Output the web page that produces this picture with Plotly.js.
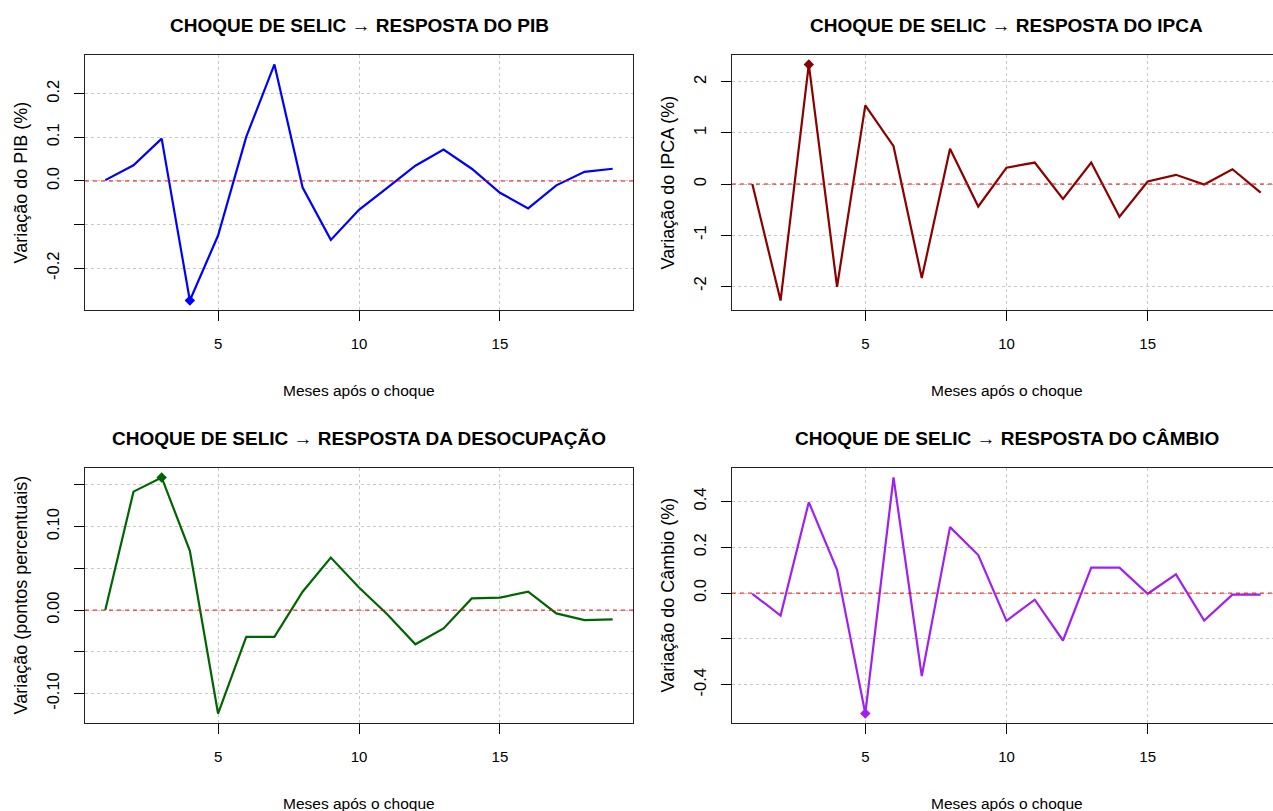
<!DOCTYPE html>
<html>
<head>
<meta charset="utf-8">
<script src="https://cdn.plot.ly/plotly-3.0.1.min.js"></script>
<style>
  html, body { margin: 0; padding: 0; background: #ffffff; }
  #chart { width: 1273px; height: 811px; }
</style>
</head>
<body>
<div id="chart"></div>
<script>
// ---------------- DATA ----------------
const meses = [1, 2, 3, 4, 5, 6, 7, 8, 9, 10, 11, 12, 13, 14, 15, 16, 17, 18, 19];

const respPIB = [0.002, 0.036, 0.097, -0.274, -0.125, 0.101, 0.267, -0.015, -0.135, -0.066,
                 -0.016, 0.035, 0.072, 0.028, -0.027, -0.063, -0.010, 0.021, 0.028];

const respIPCA = [0.00, -2.28, 2.34, -2.01, 1.54, 0.74, -1.84, 0.69, -0.44, 0.32,
                  0.42, -0.29, 0.42, -0.64, 0.05, 0.18, -0.01, 0.29, -0.17];

const respDesocupacao = [0.000, 0.142, 0.159, 0.071, -0.124, -0.032, -0.032, 0.022, 0.063, 0.027,
                         -0.005, -0.041, -0.022, 0.014, 0.015, 0.022, -0.004, -0.012, -0.011];

const respCambio = [-0.003, -0.098, 0.397, 0.102, -0.526, 0.505, -0.362, 0.288, 0.166, -0.121,
                    -0.029, -0.207, 0.111, 0.111, -0.003, 0.082, -0.120, -0.007, -0.007];

const titulos = ["CHOQUE DE SELIC \u2192 RESPOSTA DO PIB",
                 "CHOQUE DE SELIC \u2192 RESPOSTA DO IPCA",
                 "CHOQUE DE SELIC \u2192 RESPOSTA DA DESOCUPA\u00C7\u00C3O",
                 "CHOQUE DE SELIC \u2192 RESPOSTA DO C\u00C2MBIO"];
const yTitulos = ["Varia\u00E7\u00E3o do PIB (%)",
                  "Varia\u00E7\u00E3o do IPCA (%)",
                  "Varia\u00E7\u00E3o (pontos percentuais)",
                  "Varia\u00E7\u00E3o do C\u00E2mbio (%)"];
const xTitulo = "Meses ap\u00F3s o choque";

const xTickVals = [5, 10, 15];
const xTickText = ["5", "10", "15"];

const yTickVals = [
  [-0.2, -0.1, 0, 0.1, 0.2],
  [-2, -1, 0, 1, 2],
  [-0.10, -0.05, 0, 0.05, 0.10, 0.15],
  [-0.4, -0.2, 0, 0.2, 0.4]
];
const yTickText = [
  ["-0.2", "", "0.0", "0.1", "0.2"],
  ["-2", "-1", "0", "1", "2"],
  ["-0.10", "", "0.00", "", "0.10", ""],
  ["-0.4", "", "0.0", "0.2", "0.4"]
];

const cores = ["#0000FF", "#8B0000", "#006400", "#A020F0"];
const series = [respPIB, respIPCA, respDesocupacao, respCambio];

// ---------------- FONT CHOICE ----------------
function hasFont(name) {
  const c = document.createElement("canvas").getContext("2d");
  const s = "mmmmmmmmmmwwwwwwwlllliiiiiMMM0123";
  c.font = "72px monospace"; const a = c.measureText(s).width;
  c.font = '72px "' + name + '", monospace'; const b = c.measureText(s).width;
  return Math.abs(a - b) > 1;
}
const narrowOK = hasFont("Liberation Sans Narrow");
const narrow = narrowOK ? '"Liberation Sans Narrow", "Arial Narrow", sans-serif' : '"Liberation Sans", Arial, sans-serif';
const regular = '"Liberation Sans", Arial, sans-serif';
const sTitle = narrowOK ? 23 : 19;
const sXlab = narrowOK ? 19 : 15.5;
const sXtick = narrowOK ? 18 : 15;

// ---------------- LAYOUT GEOMETRY ----------------
const W = 1273, H = 811;
// panel boxes in pixels: [left, right, top, bottom]
const boxes = [
  [85, 633, 55, 310],
  [732, 1281, 55, 310],
  [85, 633, 468, 723],
  [732, 1281, 468, 723]
];

function padRange(v) {
  const mn = Math.min(...v), mx = Math.max(...v);
  const d = (mx - mn) * 0.04;
  return [mn - d, mx + d];
}
const xFull = [meses[0] - (meses[meses.length - 1] - meses[0]) * 0.04,
               meses[meses.length - 1] + (meses[meses.length - 1] - meses[0]) * 0.04];

const traces = [];
const layout = {
  width: W, height: H,
  margin: {l: 0, r: 0, t: 0, b: 0},
  paper_bgcolor: "#ffffff",
  plot_bgcolor: "#ffffff",
  showlegend: false,
  shapes: [],
  annotations: []
};

for (let i = 0; i < 4; i++) {
  const n = i === 0 ? "" : String(i + 1);
  const [L, R, T, B] = boxes[i];
  // clip right panels at the image edge, keeping the same x scale
  const pxPerUnit = (R - L) / (xFull[1] - xFull[0]);
  const Rc = Math.min(R, W);
  const xr = [xFull[0], xFull[0] + (Rc - L) / pxPerUnit];

  layout["xaxis" + n] = {
    domain: [L / W, Rc / W],
    anchor: "y" + n,
    range: xr,
    tickmode: "array", tickvals: xTickVals, ticktext: xTickText,
    ticks: "outside", ticklen: 10, tickwidth: 1, tickcolor: "#000",
    ticklabelstandoff: 10,
    tickfont: {family: narrow, size: sXtick, color: "#000"},
    showgrid: true, gridcolor: "#C8C8C8", griddash: "dot", gridwidth: 1,
    zeroline: false,
    showline: true, mirror: true, linecolor: "#222", linewidth: 1
  };
  const yr = padRange(series[i]);
  layout["yaxis" + n] = {
    domain: [1 - B / H, 1 - T / H],
    anchor: "x" + n,
    range: yr,
    tickmode: "array", tickvals: yTickVals[i], ticktext: yTickText[i],
    ticks: "outside", ticklen: 10, tickwidth: 1, tickcolor: "#000",
    tickangle: -90,
    ticklabelstandoff: 8,
    tickfont: {family: regular, size: 16.5, color: "#000"},
    showgrid: true, gridcolor: "#C8C8C8", griddash: "dot", gridwidth: 1,
    zeroline: false,
    showline: true, mirror: true, linecolor: "#222", linewidth: 1
  };

  // zero reference line
  layout.shapes.push({
    type: "line", xref: "x" + n + " domain", x0: 0, x1: 1,
    yref: "y" + n, y0: 0, y1: 0,
    line: {color: "#FF0000", width: 1, dash: "4px,4px"}, layer: "above"
  });

  traces.push({
    type: "scatter", mode: "lines", x: meses, y: series[i],
    xaxis: "x" + n, yaxis: "y" + n,
    line: {color: cores[i], width: 2.2},
    hoverinfo: "skip"
  });
  // marker at the peak (largest absolute response)
  let k = 0;
  series[i].forEach((v, j) => { if (Math.abs(v) > Math.abs(series[i][k])) k = j; });
  traces.push({
    type: "scatter", mode: "markers", x: [meses[k]], y: [series[i][k]],
    xaxis: "x" + n, yaxis: "y" + n,
    marker: {color: cores[i], size: 8, symbol: "diamond"},
    hoverinfo: "skip"
  });

  const cx = (L + R) / 2 / W;
  // panel title
  layout.annotations.push({
    text: "<b>" + titulos[i] + "</b>", xref: "paper", yref: "paper",
    x: cx, y: 1 - (T - 30) / H, xanchor: "center", yanchor: "middle",
    showarrow: false, font: {family: narrow, size: sTitle, color: "#000"}
  });
  // x axis title
  layout.annotations.push({
    text: xTitulo, xref: "paper", yref: "paper",
    x: cx, y: 1 - (B + 80) / H, xanchor: "center", yanchor: "middle",
    showarrow: false, font: {family: narrow, size: sXlab, color: "#000"}
  });
  // y axis title
  layout.annotations.push({
    text: yTitulos[i], xref: "paper", yref: "paper",
    x: (L - 65) / W, y: 1 - (T + B) / 2 / H, xanchor: "center", yanchor: "middle",
    textangle: -90,
    showarrow: false, font: {family: regular, size: 18, color: "#000"}
  });
}

Plotly.newPlot("chart", traces, layout, {staticPlot: true, displayModeBar: false});
</script>
</body>
</html>
